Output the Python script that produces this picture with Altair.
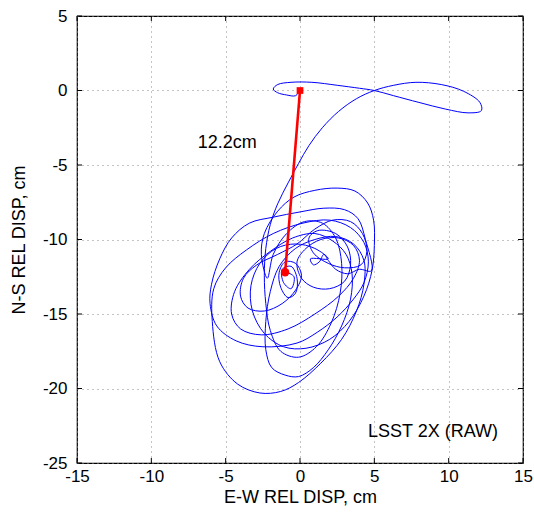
import altair as alt
import pandas as pd

# Relative displacement track (cm), drawn as consecutive segments
start_figure8 = [
    (0.0, 0.0), (-0.3, -0.35), (-0.9, -0.3), (-1.5, -0.15), (-1.8, 0.1), (-1.5, 0.4),
    (-0.6, 0.55), (0.8, 0.55), (2.5, 0.35), (4.0, 0.15), (5.0, 0.0), (6.3, -0.35),
    (8.0, -0.8), (9.8, -1.25), (11.3, -1.5), (12.2, -1.35), (12.1, -0.8), (11.0, -0.05),
    (9.5, 0.4), (7.8, 0.55), (6.3, 0.35), (5.0, 0.0), (3.8, -0.55), (2.6, -1.4),
    (1.5, -2.5), (0.6, -3.7), (-0.1, -4.9), (-0.8, -6.2), (-1.5, -7.6),
]
descent = [
    (-2.0, -9.0), (-2.3, -10.6), (-2.4, -12.4), (-2.3, -14.3), (-2.0, -16.1), (-1.3, -17.5),
    (-0.1, -17.9), (1.1, -17.2), (2.1, -15.6), (2.7, -13.6), (2.8, -11.6), (2.4, -9.9),
    (1.5, -8.9), (0.3, -8.8), (-0.9, -9.6), (-1.8, -11.0), (-2.2, -12.6),
]
tall_right = [
    (-2.6, -11.0), (-2.4, -9.6), (-1.5, -8.1), (-0.4, -7.15), (1.0, -6.7), (2.5, -6.55),
    (3.7, -6.75), (4.55, -7.55), (4.95, -8.7), (5.0, -10.4), (4.85, -12.05), (4.3, -13.8),
    (3.3, -15.5), (2.0, -16.7), (0.4, -17.3), (-1.1, -17.2), (-2.4, -16.3), (-3.2, -14.8),
    (-3.3, -13.1), (-2.7, -11.6), (-1.6, -10.6), (-0.3, -10.3), (1.0, -10.6), (1.9, -11.3),
]
squiggle = [
    (0.7, -11.3), (0.9, -11.7), (1.3, -11.5), (1.6, -11.0), (1.9, -11.4), (2.4, -12.0),
    (3.2, -12.3), (4.0, -12.0), (4.8, -12.1),
]
wide_left = [
    (4.4, -10.0), (3.9, -8.6), (3.0, -8.0), (1.6, -7.9), (0.0, -8.15), (-1.8, -8.5),
    (-3.4, -8.9), (-4.6, -9.9), (-5.4, -11.3), (-5.95, -13.0), (-6.05, -14.3), (-5.6, -15.8),
    (-4.3, -16.8), (-2.5, -17.2), (-0.2, -16.95), (1.2, -16.2), (2.5, -15.2), (3.6, -14.0),
    (4.3, -12.9), (4.6, -11.5), (4.3, -10.2), (3.4, -9.2), (2.0, -8.7),
]
deep_bottom = [
    (0.2, -8.9), (-1.8, -9.6), (-3.6, -10.7), (-5.0, -11.9), (-5.8, -13.3), (-5.9, -15.5),
    (-5.4, -18.2), (-4.2, -19.7), (-2.7, -20.3), (-1.3, -20.2), (-0.1, -19.6), (1.4, -18.3),
    (2.8, -16.7), (3.8, -14.8), (4.3, -13.0), (4.3, -11.4), (3.6, -10.3), (2.4, -9.8),
]
mid_bottom = [
    (1.0, -10.0), (-0.3, -10.6), (-1.4, -11.8), (-2.0, -13.5), (-2.3, -15.5), (-2.3, -17.4),
    (-1.9, -18.6), (-1.0, -19.1), (-0.1, -19.2), (0.9, -18.6), (1.9, -17.4), (2.8, -15.8),
    (3.4, -14.0), (3.5, -12.3), (3.1, -11.0), (2.2, -10.1), (1.0, -9.6),
]
flat_middle = [
    (-0.5, -9.9), (-2.0, -10.8), (-3.4, -12.0), (-4.4, -13.5), (-4.6, -15.0), (-4.0, -16.0),
    (-2.6, -16.4), (-0.8, -16.0), (1.0, -15.0), (2.6, -13.8), (3.6, -12.6), (4.0, -11.4),
    (3.6, -10.4), (2.6, -9.9), (1.4, -10.0), (0.4, -10.6),
]
inner_right = [
    (-0.2, -11.5), (0.1, -12.6), (0.9, -13.2), (2.0, -13.3), (3.0, -12.8), (3.4, -11.7),
    (3.2, -10.5), (2.4, -9.6), (1.2, -9.4), (0.6, -9.9), (0.9, -10.9), (1.9, -11.6),
    (3.0, -11.9), (4.1, -11.7), (4.5, -10.8), (4.2, -9.6), (3.4, -8.8), (2.2, -8.7),
    (1.0, -9.3),
]
settle = [
    (-0.2, -10.3), (-1.5, -11.0), (-2.9, -11.7), (-3.8, -12.6), (-4.0, -13.8), (-3.5, -14.6),
    (-2.4, -14.8), (-1.2, -14.3), (-0.3, -13.4), (0.1, -12.4), (-0.3, -11.6), (-1.0, -11.5),
    (-1.4, -12.2), (-1.3, -13.2), (-0.8, -13.9), (-0.3, -13.6), (-0.2, -12.6), (-0.6, -11.8),
    (-1.2, -12.0), (-1.1, -12.9), (-0.6, -13.3), (-0.4, -12.5), (-0.9, -12.2),
]

segments = [start_figure8, descent, tall_right, squiggle, wide_left, deep_bottom,
            mid_bottom, flat_middle, inner_right, settle]

# Net offset from start to end position
offset_x = [0.0, -1.0]
offset_y = [0.0, -12.2]
offset_label = "12.2cm"
run_label = "LSST 2X (RAW)"

x_ticks = [-15, -10, -5, 0, 5, 10, 15]
y_ticks = [-25, -20, -15, -10, -5, 0, 5]

pts = [p for seg in segments for p in seg]
track = pd.DataFrame({"x": [p[0] for p in pts], "y": [p[1] for p in pts],
                      "i": list(range(len(pts)))})
offset = pd.DataFrame({"x": offset_x, "y": offset_y, "i": [0, 1]})

W, H = 446, 447
FONT = "Liberation Sans"

xs = alt.Scale(domain=[-15, 15], nice=False, zero=False)
ys = alt.Scale(domain=[-25, 5], nice=False, zero=False)

common_axis = dict(grid=True, gridDash=[1, 4], gridColor="#888888", gridWidth=1,
                   ticks=False, tickSize=0, domain=False, labelFlush=False,
                   labelFontSize=17, titleFontSize=18, labelFont=FONT, titleFont=FONT,
                   labelColor="black", titleColor="black", titleFontWeight="normal",
                   labelExpr="datum.value + ''")
x_axis = alt.Axis(values=x_ticks, title="E-W REL DISP, cm", labelPadding=5,
                  titlePadding=4, **common_axis)
y_axis = alt.Axis(values=y_ticks, title="N-S REL DISP, cm", labelPadding=10,
                  titlePadding=14, **common_axis)

base = alt.Chart(track)
line = base.mark_line(interpolate="catmull-rom", color="#0000ff", strokeWidth=1).encode(
    x=alt.X("x:Q", scale=xs, axis=x_axis),
    y=alt.Y("y:Q", scale=ys, axis=y_axis),
    order="i:Q",
)

ob = alt.Chart(offset)
red_line = ob.mark_line(color="#ff0000", strokeWidth=2.6).encode(
    x=alt.X("x:Q", scale=xs), y=alt.Y("y:Q", scale=ys), order="i:Q")
red_start = ob.transform_filter("datum.i == 0").mark_point(
    shape="square", filled=True, color="#ff0000", size=45, opacity=1).encode(
    x=alt.X("x:Q", scale=xs), y=alt.Y("y:Q", scale=ys))
red_end = ob.transform_filter("datum.i == 1").mark_point(
    shape="circle", filled=True, color="#ff0000", size=70, opacity=1).encode(
    x=alt.X("x:Q", scale=xs), y=alt.Y("y:Q", scale=ys))

label_df = pd.DataFrame({"x": [-4.9, 8.95], "y": [-3.5, -22.9],
                         "t": [offset_label, run_label]})
labels = alt.Chart(label_df).mark_text(font=FONT, fontSize=18, color="black",
                                       align="center", baseline="middle").encode(
    x=alt.X("x:Q", scale=xs), y=alt.Y("y:Q", scale=ys), text="t:N")

# Inward tick marks on all four sides of the frame
xt = pd.DataFrame({"v": x_ticks})
yt = pd.DataFrame({"v": y_ticks})
tick_style = dict(color="black", strokeWidth=1)
t_bottom = alt.Chart(xt).mark_rule(**tick_style).encode(
    x=alt.X("v:Q", scale=xs), y=alt.value(H), y2=alt.value(H - 5))
t_top = alt.Chart(xt).mark_rule(**tick_style).encode(
    x=alt.X("v:Q", scale=xs), y=alt.value(0), y2=alt.value(5))
t_left = alt.Chart(yt).mark_rule(**tick_style).encode(
    y=alt.Y("v:Q", scale=ys), x=alt.value(0), x2=alt.value(5))
t_right = alt.Chart(yt).mark_rule(**tick_style).encode(
    y=alt.Y("v:Q", scale=ys), x=alt.value(W), x2=alt.value(W - 5))

chart = alt.layer(line, red_line, red_start, red_end, labels,
                  t_bottom, t_top, t_left, t_right).properties(
    width=W, height=H,
    padding={"left": 77, "top": 16, "right": 11, "bottom": 50},
    autosize=alt.AutoSizeParams(type="none"),
    background="white",
).configure_view(stroke="black", strokeWidth=1.2)

chart.save("out.html", embed_options={"renderer": "svg", "actions": False})
